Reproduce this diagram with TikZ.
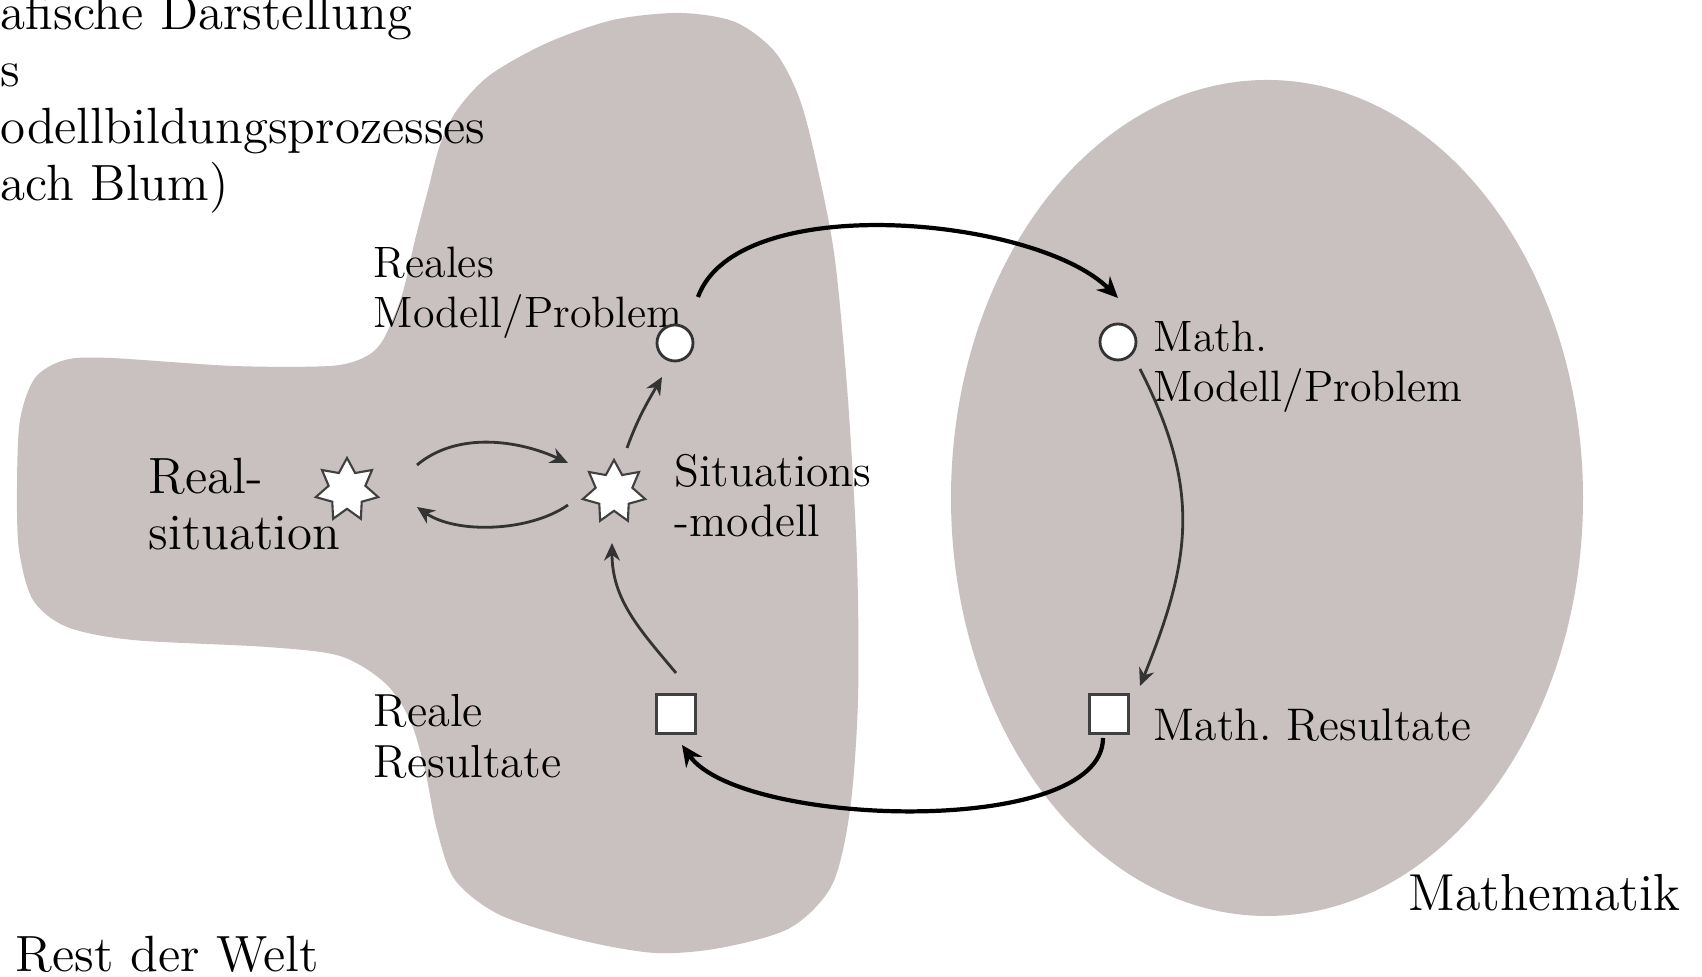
\documentclass[tikz,border=0pt]{standalone}
\usepackage{tikz}
\usetikzlibrary{
  arrows.meta,
  positioning,
  shapes.geometric
}
\usepackage{xcolor}
\definecolor{blobgrey}{RGB}{201,193,191}

\begin{document}
\begin{tikzpicture}[
    lbl/.style={anchor=base west, align=left, inner sep=0pt, font=\fontsize{12.5}{14.5}\selectfont},
    big/.style={anchor=base west, align=left, inner sep=0pt, font=\fontsize{14.5}{16}\selectfont},
    circ/.style={circle, draw=black!80, fill=white, line width=0.8pt, minimum size=0.36cm, inner sep=0pt},
    sq/.style={rectangle, draw=black!75, fill=white, line width=0.8pt, minimum size=0.39cm, inner sep=0pt},
    stern/.style={star, star points=7, star point ratio=1.7, draw=black!75, fill=white, line width=0.6pt, minimum size=0.64cm, inner sep=0pt},
    bigarr/.style={-{Stealth[length=6pt,width=5.5pt]}, line width=1.2pt},
    thinarr/.style={-{Stealth[length=5pt,width=4.5pt]}, line width=0.8pt, black!80}
  ]
    \useasboundingbox (0,0) rectangle (17.02,9.77);
    \fill[white] (0,0) rectangle (17.02,9.77);

    % Rest der Welt / Mathematik
    \fill[blobgrey] plot[smooth cycle] coordinates {
      (4.57,8.67) (4.90,9.02) (5.47,9.34) (6.13,9.57) (6.80,9.64) (7.35,9.55)
      (7.75,9.25) (8.00,8.77) (8.18,8.07) (8.35,7.17) (8.48,5.77) (8.57,4.17)
      (8.58,2.77) (8.50,1.67) (8.32,0.92) (7.90,0.49) (7.20,0.29) (6.55,0.24)
      (5.80,0.37) (5.00,0.62) (4.55,0.97) (4.37,1.47) (4.25,2.07) (4.10,2.57)
      (3.85,2.94) (3.40,3.21) (2.67,3.30) (1.33,3.37) (0.67,3.50) (0.33,3.77)
      (0.19,4.27) (0.17,4.90) (0.20,5.57) (0.35,5.99) (0.65,6.17) (1.10,6.19)
      (2.33,6.11) (3.30,6.11) (3.65,6.20) (3.83,6.37) (4.02,6.82) (4.15,7.37)
      (4.28,7.87) (4.40,8.32)};
    \fill[blobgrey] (12.67,4.79) ellipse [x radius=3.16, y radius=4.18];

    % base = letzte Zeile
    \node[big, font=\fontsize{14.5}{16.3}\selectfont] (titel) at (0,7.76) {afische Darstellung\\s\\odellbildungsprozesses\\ach Blum)};
    \node[big] (realsit) at (1.48,4.27) {Real-\\situation};
    \node[lbl] (realmod) at (3.73,6.49) {Reales\\Modell/Problem};
    \node[lbl, font=\fontsize{13}{14.5}\selectfont] (sitmod) at (6.74,4.40) {Situations\\-modell};
    \node[lbl, font=\fontsize{13.2}{14.6}\selectfont] (realres) at (3.73,1.99) {Reale\\Resultate};
    \node[lbl] (mathmod) at (11.53,5.75) {Math.\\Modell/Problem};
    \node[lbl, font=\fontsize{13}{14.5}\selectfont] (mathres) at (11.53,2.36) {Math.\ Resultate};
    \node[big, font=\fontsize{14.8}{16}\selectfont] (mathe) at (14.08,0.66) {Mathematik};
    \node[big] (welt) at (0.15,0.05) {Rest der Welt};

    \node[stern] (S1) at (3.47,4.87) {};
    \node[stern] (S2) at (6.14,4.85) {};
    \node[circ] (RM) at (6.75,6.34) {};
    \node[circ] (MM) at (11.18,6.35) {};
    \node[sq] (RR) at (6.76,2.63) {};
    \node[sq] (MR) at (11.09,2.63) {};

    \draw[bigarr] ([shift={(0.23,0.46)}]RM.center) to[out=70, in=135, looseness=0.7] ([shift={(0,0.44)}]MM.center);
    \draw[bigarr] ([shift={(-0.06,-0.24)}]MR.center) to[out=-90, in=-55, looseness=0.61] ([shift={(0.06,-0.31)}]RR.center);
    \draw[thinarr] ([shift={(0.22,-0.27)}]MM.center) to[out=-63, in=68, looseness=1.1] ([shift={(0.31,0.28)}]MR.center);
    \draw[thinarr] ([shift={(0,0.41)}]RR.center) to[out=130, in=-90] ([shift={(-0.02,-0.51)}]S2.center);
    \draw[thinarr] ([shift={(0.13,0.44)}]S2.center) to[out=70, in=-120] ([shift={(-0.13,-0.34)}]RM.center);
    \draw[thinarr] ([shift={(0.70,0.25)}]S1.center) to[out=40, in=155, looseness=0.9] ([shift={(-0.46,0.29)}]S2.center);
    \draw[thinarr] ([shift={(-0.46,-0.13)}]S2.center) to[out=-145, in=-35, looseness=0.8] ([shift={(0.70,-0.17)}]S1.center);
  \end{tikzpicture}
\end{document}
